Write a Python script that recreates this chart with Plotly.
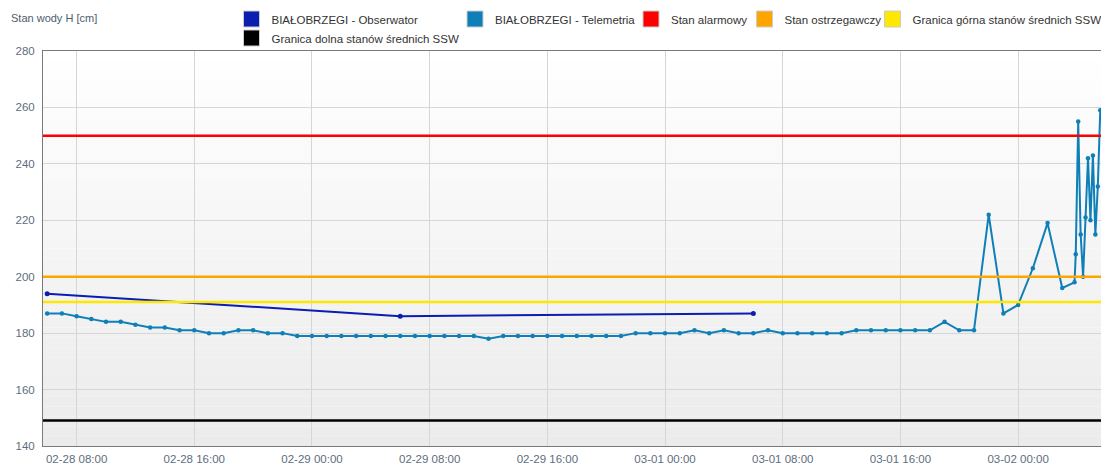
import plotly.graph_objects as go

# ---------------- data ----------------
obs_times = ["2024-02-28 06:00", "2024-02-29 06:00", "2024-03-01 06:00"]
obs_values = [194, 186, 187]

tele_times = (
    [f"2024-02-28 {h:02d}:00" for h in range(6, 24)]
    + [f"2024-02-29 {h:02d}:00" for h in range(0, 24)]
    + [f"2024-03-01 {h:02d}:00" for h in range(0, 24)]
    + ["2024-03-02 00:00", "2024-03-02 01:00", "2024-03-02 02:00", "2024-03-02 03:00",
       "2024-03-02 03:50", "2024-03-02 03:55", "2024-03-02 04:05", "2024-03-02 04:15",
       "2024-03-02 04:25", "2024-03-02 04:35", "2024-03-02 04:45", "2024-03-02 04:55",
       "2024-03-02 05:05", "2024-03-02 05:15", "2024-03-02 05:25", "2024-03-02 05:35"]
)
tele_values = (
    # 02-28 06..23
    [187, 187, 186, 185, 184, 184, 183, 182, 182, 181, 181, 180, 180, 181, 181, 180, 180, 179]
    # 02-29 00..23
    + [179, 179, 179, 179, 179, 179, 179, 179, 179, 179, 179, 179, 178, 179, 179, 179,
       179, 179, 179, 179, 179, 179, 180, 180]
    # 03-01 00..23
    + [180, 180, 181, 180, 181, 180, 180, 181, 180, 180, 180, 180, 180, 181, 181, 181,
       181, 181, 181, 184, 181, 181, 222, 187]
    # 03-02
    + [190, 203, 219, 196, 198, 208, 255, 215, 200, 221, 242, 220, 243, 215, 232, 259]
)

level_names = ["Stan alarmowy", "Stan ostrzegawczy",
               "Granica górna stanów średnich SSW", "Granica dolna stanów średnich SSW"]
level_values = [250, 200, 191, 149]
level_colors = ["#ff0000", "#ffa500", "#ffe800", "#000000"]

series_names = ["BIAŁOBRZEGI - Obserwator", "BIAŁOBRZEGI - Telemetria"]
series_colors = ["#0a1eb0", "#0f7fb8"]

x_range = ["2024-02-28 05:43", "2024-03-02 05:38"]
y_range = [140, 280]

W, H = 1101, 470
ML, MR, MT, MB = 43, 0, 51, 24
FONT = "Liberation Sans, Arial, sans-serif"

fig = go.Figure()

# background gradient (white -> light grey)
n_bands = 40
for i in range(n_bands):
    t = i / (n_bands - 1)
    c = int(round(255 - (255 - 235) * t))
    fig.add_shape(type="rect", xref="paper", yref="paper",
                  x0=0, x1=1, y0=1 - (i + 1) / n_bands, y1=1 - i / n_bands,
                  fillcolor=f"rgb({c},{c},{c})", line=dict(width=0), layer="below")

# data series
fig.add_trace(go.Scatter(
    x=obs_times, y=obs_values, mode="lines+markers", showlegend=False,
    line=dict(color=series_colors[0], width=2),
    marker=dict(color=series_colors[0], size=5), name=series_names[0]))
fig.add_trace(go.Scatter(
    x=tele_times, y=tele_values, mode="lines+markers", showlegend=False,
    line=dict(color=series_colors[1], width=2),
    marker=dict(color=series_colors[1], size=4.5), name=series_names[1]))

# level lines
for v, c in zip(level_values, level_colors):
    fig.add_shape(type="line", xref="paper", yref="y", x0=0, x1=1, y0=v, y1=v,
                  line=dict(color=c, width=2.5), layer="above")

# legend entries (square swatches), each in its own positioned legend
legend_items = [
    (series_names[0], series_colors[0], 231.5, 19),
    (series_names[1], series_colors[1], 455, 19),
    (level_names[0], level_colors[0], 631, 19),
    (level_names[1], level_colors[1], 744.5, 19),
    (level_names[2], level_colors[2], 872.5, 19),
    (level_names[3], level_colors[3], 231.5, 38),
]
legend_layout = {}
for i, (name, col, lx, ly) in enumerate(legend_items):
    key = "legend" if i == 0 else f"legend{i + 1}"
    fig.add_trace(go.Scatter(
        x=obs_times[:1], y=[None], mode="markers", name=name, legend=key, showlegend=True,
        hoverinfo="skip",
        marker=dict(symbol="square", size=16, color=col,
                    line=dict(color="#cccccc", width=1))))
    legend_layout[key] = dict(
        x=lx / W, y=1 - ly / H, xref="container", yref="container",
        xanchor="left", yanchor="middle", orientation="v",
        bgcolor="rgba(0,0,0,0)", borderwidth=0,
        font=dict(family=FONT, size=11.5, color="#333333"))

plot_w = W - ML - MR
plot_h = H - MT - MB
fig.add_annotation(
    text="Stan wody H [cm]", xref="paper", yref="paper",
    x=(9 - ML) / plot_w, y=1 + (MT - 18) / plot_h,
    xanchor="left", yanchor="middle", showarrow=False,
    font=dict(family=FONT, size=11, color="#4d5d6d"))

fig.update_layout(
    width=W, height=H,
    margin=dict(l=ML, r=MR, t=MT, b=MB, pad=0, autoexpand=False),
    paper_bgcolor="white", plot_bgcolor="white",
    font=dict(family=FONT, size=11, color="#5d6d7e"),
    xaxis=dict(
        type="date", range=x_range, tick0="2024-02-28 00:00", dtick=8 * 3600 * 1000,
        tickformat="%m-%d %H:%M", showgrid=True, gridcolor="#d6d6d6", gridwidth=1,
        showline=True, linecolor="#7a7a7a", linewidth=1, mirror=True,
        ticks="", zeroline=False, ticklabelstandoff=2,
        tickfont=dict(family=FONT, size=11.5, color="#5d6d7e")),
    yaxis=dict(
        range=y_range, dtick=20, showgrid=True, gridcolor="#d6d6d6", gridwidth=1,
        showline=True, linecolor="#7a7a7a", linewidth=1, ticks="", zeroline=False,
        ticklabelstandoff=5,
        tickfont=dict(family=FONT, size=11.5, color="#5d6d7e")),
    **legend_layout,
)

fig.write_html("out.html",
               config={"displayModeBar": False},
               post_script="document.body.style.margin='0';document.body.style.padding='0';")
